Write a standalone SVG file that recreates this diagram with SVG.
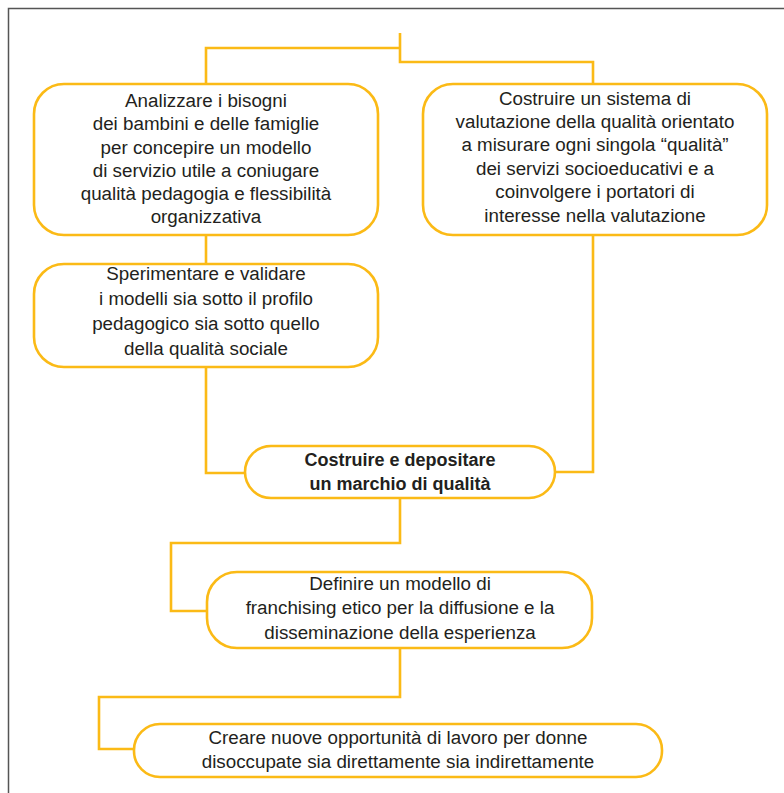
<svg xmlns="http://www.w3.org/2000/svg" width="784" height="793" viewBox="0 0 784 793">
<style>
.box{fill:#fff;stroke:#FBBA16;stroke-width:2.6}
.con{fill:none;stroke:#FBBA16;stroke-width:2.6;stroke-linejoin:miter}
text{font-family:"Liberation Sans",Arial,sans-serif;font-size:18.8px;fill:#231F20;text-anchor:middle}
.b{font-weight:bold;font-size:18px}
</style>
<rect x="0" y="0" width="784" height="793" fill="#fff"/>
<path d="M8.5 800 V8.5 H790" fill="none" stroke="#555" stroke-width="1.5"/>
<g id="connectors">
<path class="con" d="M400 33 V62 H593 V84"/>
<path class="con" d="M400 48 H206 V84"/>
<path class="con" d="M206 235 V264"/>
<path class="con" d="M206 367 V473 H245"/>
<path class="con" d="M593 235 V472 H555"/>
<path class="con" d="M400 498 V543 H171 V611 H207"/>
<path class="con" d="M400 648 V697 H99 V749 H134"/>
</g>
<g id="n1">
<rect class="box" x="34" y="84" width="344" height="151" rx="30"/>
<text x="206" y="107">Analizzare i bisogni</text>
<text x="206" y="130">dei bambini e delle famiglie</text>
<text x="206" y="154">per concepire un modello</text>
<text x="206" y="177">di servizio utile a coniugare</text>
<text x="206" y="200">qualità pedagogia e flessibilità</text>
<text x="206" y="223">organizzativa</text>
</g>
<g id="n2">
<rect class="box" x="423" y="84" width="344" height="151" rx="30"/>
<text x="595" y="105">Costruire un sistema di</text>
<text x="595" y="128">valutazione della qualità orientato</text>
<text x="595" y="151">a misurare ogni singola “qualità”</text>
<text x="595" y="175">dei servizi socioeducativi e a</text>
<text x="595" y="198">coinvolgere i portatori di</text>
<text x="595" y="222">interesse nella valutazione</text>
</g>
<g id="n3">
<rect class="box" x="34" y="264" width="344" height="103" rx="30"/>
<text x="206" y="280">Sperimentare e validare</text>
<text x="206" y="305">i modelli sia sotto il profilo</text>
<text x="206" y="330">pedagogico sia sotto quello</text>
<text x="206" y="355">della qualità sociale</text>
</g>
<g id="n4">
<rect class="box" x="245" y="446" width="310" height="52" rx="26"/>
<text class="b" x="400" y="466">Costruire e depositare</text>
<text class="b" x="400" y="490">un marchio di qualità</text>
</g>
<g id="n5">
<rect class="box" x="207" y="572" width="385" height="76" rx="30"/>
<text x="400" y="590">Definire un modello di</text>
<text x="400" y="614">franchising etico per la diffusione e la</text>
<text x="400" y="639">disseminazione della esperienza</text>
</g>
<g id="n6">
<rect class="box" x="134" y="724" width="528" height="53" rx="26"/>
<text x="398" y="744">Creare nuove opportunità di lavoro per donne</text>
<text x="398" y="768">disoccupate sia direttamente sia indirettamente</text>
</g>
</svg>
